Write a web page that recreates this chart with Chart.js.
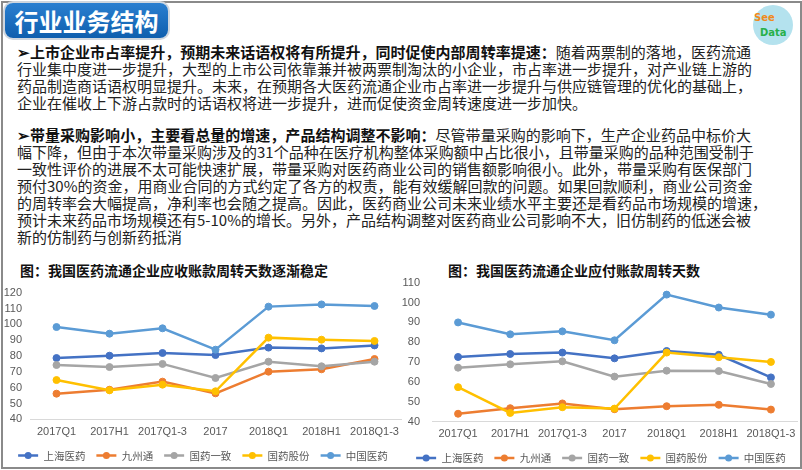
<!DOCTYPE html>
<html>
<head>
<meta charset="utf-8">
<script src="https://cdn.jsdelivr.net/npm/chart.js@4.4.1/dist/chart.umd.min.js"></script>
<style>
  html, body { margin: 0; padding: 0; background: #fff; }
  #slide { position: relative; width: 802px; height: 470px; overflow: hidden; font-family: "Noto Sans CJK SC", sans-serif; }
  #frame { position: absolute; left: 1px; top: 1px; width: 797px; height: 464px; border: 2px solid #8a8a8a; }
  #head { position: absolute; left: 5px; top: 3px; width: 163px; height: 35px; border-radius: 8px;
          background: linear-gradient(#2a7fd0, #0f5fae); box-shadow: 0 0 0 2px #cfd6de;
          color: #fff; font-weight: bold; font-size: 24px; line-height: 35px; text-align: center; }
  #logo { position: absolute; left: 753px; top: 5px; width: 40px; height: 40px; border-radius: 50%; background: #b4e2ee; }
  #logo .s { position: absolute; left: 1px; top: 8px; font: bold 10px/10px "DejaVu Sans", sans-serif; color: #f08a1c; }
  #logo .d { position: absolute; left: 7px; top: 23px; font: bold 10px/10px "DejaVu Sans", sans-serif; color: #27b04a; }
  .ln { position: absolute; left: 17px; width: 734px; font-size: 15px; line-height: 17px; color: #222; white-space: nowrap;
        text-align: justify; text-align-last: justify; }
  .ln.last { text-align: left; text-align-last: left; }
  .ln b { font-weight: bold; color: #111; }
  .ctitle { position: absolute; font-size: 14px; font-weight: bold; color: #111; white-space: nowrap; line-height: 16px; }
  .wrap { position: absolute; }
</style>
</head>
<body>
<div id="slide">
  <div id="frame"></div>
  <div id="head">行业业务结构</div>
  <div id="logo"><span class="s">See</span><span class="d">Data</span></div>

  <div class="ln" style="top:43px"><b>➢上市企业市占率提升，预期未来话语权将有所提升，同时促使内部周转率提速：</b>随着两票制的落地，医药流通</div>
  <div class="ln" style="top:60px">行业集中度进一步提升，大型的上市公司依靠兼并被两票制淘汰的小企业，市占率进一步提升，对产业链上游的</div>
  <div class="ln" style="top:77px">药品制造商话语权明显提升。未来，在预期各大医药流通企业市占率进一步提升与供应链管理的优化的基础上，</div>
  <div class="ln last" style="top:94px">企业在催收上下游占款时的话语权将进一步提升，进而促使资金周转速度进一步加快。</div>

  <div class="ln" style="top:126px"><b>➢带量采购影响小，主要看总量的增速，产品结构调整不影响：</b>尽管带量采购的影响下，生产企业药品中标价大</div>
  <div class="ln" style="top:143px">幅下降，但由于本次带量采购涉及的31个品种在医疗机构整体采购额中占比很小，且带量采购的品种范围受制于</div>
  <div class="ln" style="top:160px">一致性评价的进展不太可能快速扩展，带量采购对医药商业公司的销售额影响很小。此外，带量采购有医保部门</div>
  <div class="ln" style="top:177px">预付30%的资金，用商业合同的方式约定了各方的权责，能有效缓解回款的问题。如果回款顺利，商业公司资金</div>
  <div class="ln" style="top:194px">的周转率会大幅提高，净利率也会随之提高。因此，医药商业公司未来业绩水平主要还是看药品市场规模的增速，</div>
  <div class="ln" style="top:211px">预计未来药品市场规模还有5-10%的增长。另外，产品结构调整对医药商业公司影响不大，旧仿制药的低迷会被</div>
  <div class="ln last" style="top:228px">新的仿制药与创新药抵消</div>

  <div class="ctitle" style="left:20px; top:262px">图：我国医药流通企业应收账款周转天数逐渐稳定</div>
  <div class="ctitle" style="left:448px; top:262px">图：我国医药流通企业应付账款周转天数</div>

  <div class="wrap" style="left:0px; top:282px; width:406px; height:186px"><canvas id="left"></canvas></div>
  <div class="wrap" style="left:400px; top:272px; width:402px; height:196px"><canvas id="right"></canvas></div>
</div>

<script>
// 数据
const categories = ['2017Q1', '2017H1', '2017Q1-3', '2017', '2018Q1', '2018H1', '2018Q1-3'];
const seriesNames = ['上海医药', '九州通', '国药一致', '国药股份', '中国医药'];
const seriesColors = ['#4472C4', '#ED7D31', '#A5A5A5', '#FFC000', '#5B9BD5'];

// 应收账款周转天数
const recvShanghai = [78.7, 80.2, 81.9, 80.6, 85.3, 84.8, 86.7];
const recvJiuzhou = [56.2, 58.7, 63.8, 56.4, 70.1, 71.6, 78.1];
const recvYizhi = [74.3, 73.0, 75.0, 66.1, 76.4, 73.5, 76.4];
const recvGufen = [64.8, 58.3, 61.9, 57.7, 91.6, 90.3, 89.5];
const recvZhongguo = [98.3, 94.1, 97.5, 84.0, 111.2, 112.6, 111.6];

// 应付账款周转天数
const payShanghai = [72.6, 74.1, 74.8, 71.9, 75.6, 73.7, 62.3];
const payJiuzhou = [44.0, 46.8, 49.2, 46.3, 47.8, 48.5, 46.1];
const payYizhi = [67.2, 68.9, 70.4, 62.7, 65.7, 65.5, 59.0];
const payGufen = [57.4, 44.4, 47.3, 46.6, 74.8, 72.5, 70.1];
const payZhongguo = [90.0, 84.0, 85.5, 81.0, 104.0, 97.5, 93.9];

// 图例：线段 + 圆点，并固定图例高度
const legendDots = {
    id: 'legendDots',
    afterInit(chart, args, opts) {
        const lg = chart.legend;
        const fit = lg.fit;
        lg.fit = function () { fit.call(this); this.height = opts.height; };
    },
    afterDraw(chart) {
        const lg = chart.legend;
        if (!lg || !lg.legendHitBoxes) return;
        const ctx = chart.ctx;
        lg.legendHitBoxes.forEach((box, i) => {
            ctx.save();
            ctx.fillStyle = seriesColors[i];
            ctx.beginPath();
            ctx.arc(box.left + 10, box.top + box.height / 2, 3.5, 0, Math.PI * 2);
            ctx.fill();
            ctx.restore();
        });
    }
};

function makeChart(id, values, yMax, yWidth, yPad, legendHeight) {
    const datasets = values.map((arr, i) => ({
        label: seriesNames[i],
        data: arr,
        borderColor: seriesColors[i],
        backgroundColor: seriesColors[i],
        borderWidth: 2.5,
        pointRadius: 3.5,
        pointBorderWidth: 1,
        tension: 0,
        order: 5 - i
    }));
    return new Chart(document.getElementById(id), {
        type: 'line',
        data: { labels: categories, datasets: datasets },
        options: {
            responsive: true,
            maintainAspectRatio: false,
            animation: false,
            layout: { padding: { top: 10.7, right: 0, left: 0, bottom: 0 } },
            scales: {
                x: {
                    offset: true,
                    grid: { display: false, tickLength: 0 },
                    border: { display: true, color: '#d9d9d9', width: 1 },
                    ticks: { color: '#595959', font: { size: 11, family: 'Liberation Sans' }, maxRotation: 0, autoSkip: false, padding: 6 },
                    afterFit: s => { s.height = 20; s.paddingLeft = 0; s.paddingRight = 0; }
                },
                y: {
                    min: 40,
                    max: yMax,
                    grid: { display: false, tickLength: 0 },
                    border: { display: false },
                    ticks: { stepSize: 10, autoSkip: false, color: '#595959', font: { size: 11, family: 'Liberation Sans' }, padding: yPad },
                    afterFit: s => { s.width = yWidth; s.paddingTop = 0; s.paddingBottom = 0; }
                }
            },
            plugins: {
                legend: {
                    position: 'bottom',
                    labels: {
                        usePointStyle: true,
                        pointStyle: 'line',
                        pointStyleWidth: 20,
                        color: '#595959',
                        font: { size: 10.5, family: 'Noto Sans CJK SC' },
                        padding: 11,
                        generateLabels: chart => seriesNames.map((name, i) => ({
                            text: name,
                            fillStyle: seriesColors[i],
                            strokeStyle: seriesColors[i],
                            lineWidth: 2.5,
                            pointStyle: 'line',
                            datasetIndex: i,
                            fontColor: '#595959'
                        }))
                    }
                },
                legendDots: { height: legendHeight },
                tooltip: { enabled: false }
            }
        },
        plugins: [legendDots]
    });
}

makeChart('left', [recvShanghai, recvJiuzhou, recvYizhi, recvGufen, recvZhongguo], 120, 30, 8, 28.7);
makeChart('right', [payShanghai, payJiuzhou, payYizhi, payGufen, payZhongguo], 110, 32, 12, 26.3);
</script>
</body>
</html>
